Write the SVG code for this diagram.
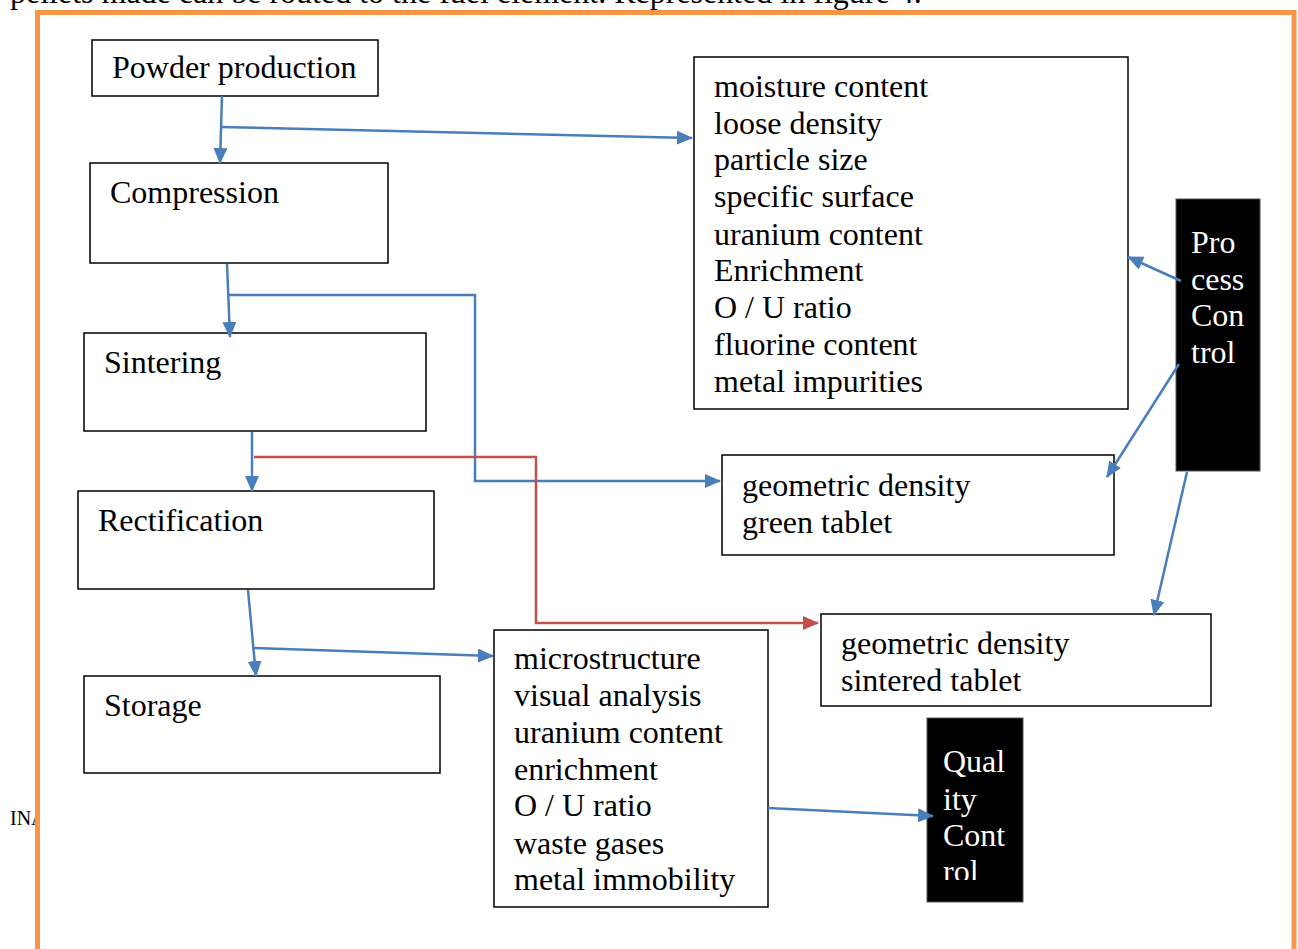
<svg xmlns="http://www.w3.org/2000/svg" width="1298" height="949" viewBox="0 0 1298 949">
<style>
.t{font-family:"Liberation Serif","Times New Roman",serif;font-size:32px;fill:#000}
.w{font-family:"Liberation Serif","Times New Roman",serif;font-size:32px;fill:#fff}
.box{fill:#fff;stroke:#000;stroke-width:1.5}
.blk{fill:#000;stroke:#555;stroke-width:1}
.c{fill:none;stroke:#4a7ebb;stroke-width:2.5}
.r{fill:none;stroke:#c0504d;stroke-width:2.5}
</style>
<defs>
<marker id="ab" markerUnits="userSpaceOnUse" markerWidth="16" markerHeight="14" refX="15" refY="7" orient="auto"><path d="M0,0 L16,7 L0,14 Z" fill="#4a7ebb"/></marker>
<marker id="ar" markerUnits="userSpaceOnUse" markerWidth="16" markerHeight="14" refX="15" refY="7" orient="auto"><path d="M0,0 L16,7 L0,14 Z" fill="#c0504d"/></marker>
<clipPath id="qc"><rect x="927" y="718" width="96" height="162"/></clipPath>
</defs>
<rect width="1298" height="949" fill="#fff"/>
<text class="t" x="10" y="3" font-size="28">pellets made can be routed to the fuel element. Represented in figure 4.</text>
<text class="t" x="10" y="825" style="font-size:20px">INAC</text>
<rect x="37.5" y="12.5" width="1256.5" height="960" fill="#fff" stroke="#f79646" stroke-width="5"/>

<g id="n-powder"><rect class="box" x="92" y="40" width="286" height="56"/><text class="t" x="112" y="78">Powder production</text></g>
<g id="n-compression"><rect class="box" x="90" y="163" width="298" height="100"/><text class="t" x="110" y="203">Compression</text></g>
<g id="n-sintering"><rect class="box" x="84" y="333" width="342" height="98"/><text class="t" x="104" y="373">Sintering</text></g>
<g id="n-rectification"><rect class="box" x="78" y="491" width="356" height="98"/><text class="t" x="98" y="531">Rectification</text></g>
<g id="n-storage"><rect class="box" x="84" y="676" width="356" height="97"/><text class="t" x="104" y="716">Storage</text></g>
<g id="n-powder-tests"><rect class="box" x="694" y="57" width="434" height="352"/>
<text class="t" x="714" y="97">moisture content</text>
<text class="t" x="714" y="134">loose density</text>
<text class="t" x="714" y="170">particle size</text>
<text class="t" x="714" y="207">specific surface</text>
<text class="t" x="714" y="245">uranium content</text>
<text class="t" x="714" y="281">Enrichment</text>
<text class="t" x="714" y="318">O / U ratio</text>
<text class="t" x="714" y="355">fluorine content</text>
<text class="t" x="714" y="392">metal impurities</text></g>
<g id="n-green"><rect class="box" x="722" y="455" width="392" height="100"/><text class="t" x="742" y="496">geometric density</text><text class="t" x="742" y="533">green tablet</text></g>
<g id="n-sintered"><rect class="box" x="821" y="614" width="390" height="92"/><text class="t" x="841" y="654">geometric density</text><text class="t" x="841" y="691">sintered tablet</text></g>
<g id="n-final-tests"><rect class="box" x="494" y="630" width="274" height="277"/>
<text class="t" x="514" y="669">microstructure</text>
<text class="t" x="514" y="706">visual analysis</text>
<text class="t" x="514" y="743">uranium content</text>
<text class="t" x="514" y="780">enrichment</text>
<text class="t" x="514" y="816">O / U ratio</text>
<text class="t" x="514" y="854">waste gases</text>
<text class="t" x="514" y="890">metal immobility</text></g>
<g id="n-process-control"><rect class="blk" x="1176" y="199" width="84" height="272"/>
<text class="w" x="1191" y="253">Pro</text><text class="w" x="1191" y="290">cess</text><text class="w" x="1191" y="326">Con</text><text class="w" x="1191" y="363">trol</text></g>
<g id="n-quality-control"><rect class="blk" x="927" y="718" width="96" height="184"/>
<g clip-path="url(#qc)"><text class="w" x="943" y="772">Qual</text><text class="w" x="943" y="810">ity</text><text class="w" x="943" y="846">Cont</text><text class="w" x="943" y="882">rol</text></g></g>

<g id="connectors">
<path class="c" d="M222,96 L220,163" marker-end="url(#ab)"/>
<path class="c" d="M220,127 L692,138" marker-end="url(#ab)"/>
<path class="c" d="M227,264 L230,337" marker-end="url(#ab)"/>
<path class="c" d="M229,295 L475,295 L475,481 L720,481" marker-end="url(#ab)"/>
<path class="c" d="M252,432 L252,491" marker-end="url(#ab)"/>
<path class="r" d="M254,457 L536,457 L536,623 L818,623" marker-end="url(#ar)"/>
<path class="c" d="M248,590 L256,676" marker-end="url(#ab)"/>
<path class="c" d="M252,648 L493,656" marker-end="url(#ab)"/>
<path class="c" d="M768,808 L933,816" marker-end="url(#ab)"/>
<path class="c" d="M1181,281 L1128,257" marker-end="url(#ab)"/>
<path class="c" d="M1179,364 L1107,477" marker-end="url(#ab)"/>
<path class="c" d="M1187,472 L1154,615" marker-end="url(#ab)"/>
</g>
</svg>
